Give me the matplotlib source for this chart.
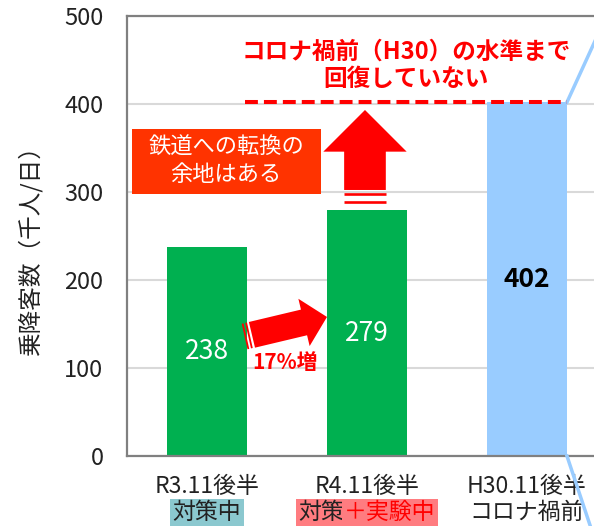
import matplotlib
matplotlib.use("Agg")
import matplotlib.pyplot as plt
from matplotlib.patches import FancyArrowPatch, Rectangle

plt.rcParams['font.family'] = ['Noto Sans CJK JP', 'DejaVu Sans']

# data
periods = ["R3.11後半", "R4.11後半", "H30.11後半"]
notes = ["対策中", "対策＋実験中", "コロナ禍前"]
riders = [238, 279, 402]
bar_colors = ["#00B050", "#00B050", "#99CCFF"]
yticks = [0, 100, 200, 300, 400, 500]

fig = plt.figure(figsize=(5.94, 5.26), dpi=100)
ax = fig.add_axes([127 / 594, 70 / 526, 1 - 127 / 594, 440 / 526])

x = list(range(len(periods)))
ax.bar(x, riders, width=0.5, color=bar_colors, zorder=2)
ax.set_xlim(-0.5, 2.419)
ax.set_ylim(0, 500)
ax.set_yticks(yticks)
ax.set_xticks([])
ax.tick_params(axis='y', length=0, pad=17, labelsize=17, labelcolor='#222222')
ax.yaxis.grid(True, color='#D9D9D9', lw=1.5, zorder=0)
for s in ['left', 'top', 'bottom']:
    ax.spines[s].set_color('#808080')
    ax.spines[s].set_linewidth(1.6)
ax.spines['right'].set_visible(False)

fig.text(30 / 594, 1 - 245 / 526, "乗降客数（千人/日）", rotation=90,
         ha='center', va='center', fontsize=17, color='#222222')

# bar values
for i, v in enumerate(riders):
    if i < 2:
        ax.text(i, v / 2, str(v), ha='center', va='center', fontsize=19, color='white')
    else:
        ax.text(i, v / 2, str(v), ha='center', va='center', fontsize=19,
                color='black', fontweight='bold')

# category labels
fs = 16.5
tr = ax.get_xaxis_transform()
for i, p in enumerate(periods):
    ax.text(i, -0.07, p, transform=tr, ha='center', va='center', fontsize=fs,
            color='#222222', clip_on=False)
ax.text(0, -0.128, notes[0], transform=tr, ha='center', va='center', fontsize=fs,
        color='#222222', clip_on=False,
        bbox=dict(boxstyle='square,pad=0.1', fc='#8BC8CF', ec='none'))
# second note: black "対策" + red "＋実験中" on one pink box
ax.annotate(notes[1][:2], xy=(1, -0.128), xycoords=tr, xytext=(-fs, 0),
            textcoords='offset points', ha='right', va='center', fontsize=fs,
            color='#222222', annotation_clip=False,
            bbox=dict(boxstyle='square,pad=0.1', fc='#FF7C80', ec='none'))
ax.annotate(notes[1][2:], xy=(1, -0.128), xycoords=tr, xytext=(-fs, 0),
            textcoords='offset points', ha='left', va='center', fontsize=fs,
            color='#FF0000', annotation_clip=False,
            bbox=dict(boxstyle='square,pad=0.1', fc='#FF7C80', ec='none'))
ax.text(2, -0.128, notes[2], transform=tr, ha='center', va='center', fontsize=fs,
        color='#222222', clip_on=False)

# dashed pre-covid level line
ax.plot([0.24, 2.25], [riders[2], riders[2]], color='#FF0000', lw=2.9,
        linestyle=(0, (3.2, 1.5)), zorder=4, solid_capstyle='butt',
        dash_capstyle='butt')
ax.text(1.244, 444, "コロナ禍前（H30）の水準まで\n回復していない", ha='center', va='center',
        fontsize=17, fontweight='bold', color='#FF0000', linespacing=1.15)

# connector lines from H30 bar
ax.plot([2.25, 2.6], [riders[2], riders[2] + 139], color='#99CCFF', lw=2.5,
        clip_on=False, zorder=3)
ax.plot([2.25, 2.6], [0, -191], color='#99CCFF', lw=2.5, clip_on=False, zorder=3)

# orange note box
ax.add_patch(Rectangle((-0.469, 297.7), 1.1815, 73.9, fc='#FF3300', ec='none', zorder=3))
ax.text(0.12, 335, "鉄道への転換の\n余地はある", ha='center', va='center',
        fontsize=16, color='white', zorder=4, linespacing=1.25)

# up arrow
up = FancyArrowPatch((0.9875, 302.3), (0.9875, 393.2),
                     arrowstyle='simple,head_length=30,head_width=60,tail_width=30',
                     mutation_scale=1, shrinkA=0, shrinkB=0, fc='#FF0000', ec='none',
                     zorder=5)
ax.add_patch(up)
for yy in [297.8, 289.2]:
    ax.plot([0.856, 1.119], [yy, yy], color='#FF0000', lw=1.9, zorder=5,
            solid_capstyle='butt')

# right arrow
rt = FancyArrowPatch((0.281, 137.7), (0.75, 158),
                     arrowstyle='simple,head_length=17,head_width=35,tail_width=19',
                     mutation_scale=1, shrinkA=0, shrinkB=0, fc='#FF0000', ec='none',
                     zorder=5)
ax.add_patch(rt)
for cx, cy in [(0.2625, 137.0), (0.2406, 136.0)]:
    ax.plot([cx + 0.018, cx - 0.018], [cy - 14.5, cy + 14.5], color='#FF0000',
            lw=1.3, zorder=5, solid_capstyle='butt')
ax.text(0.4875, 106.8, "17%増", ha='center', va='center', fontsize=15,
        fontweight='bold', color='#FF0000', zorder=5)

fig.savefig("out.png", dpi=100)
